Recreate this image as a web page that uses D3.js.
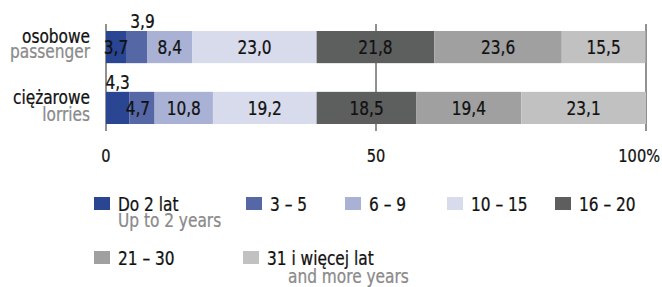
<!DOCTYPE html>
<html>
<head>
<meta charset="utf-8">
<script src="https://cdn.jsdelivr.net/npm/d3@7"></script>
<style>
  body { margin: 0; background: #fff; }
  text { font-family: "DejaVu Sans Condensed", "DejaVu Sans", sans-serif; font-stretch: condensed; }
</style>
</head>
<body>
<svg width="662" height="287"></svg>
<script>
// data
let categories = ["osobowe", "ciężarowe"];
let categoriesEn = ["passenger", "lorries"];
let groups = ["Do 2 lat", "3 – 5", "6 – 9", "10 – 15", "16 – 20", "21 – 30", "31 i więcej lat"];
let groupsEn = ["Up to 2 years", "", "", "", "", "", "and more years"];
let passenger = [3.7, 3.9, 8.4, 23.0, 21.8, 23.6, 15.5];
let lorries = [4.3, 4.7, 10.8, 19.2, 18.5, 19.4, 23.1];
let ticks = [0, 50, 100];
let colors = ["#2a4592", "#5567a5", "#a9b2d5", "#d8dbeb", "#5d5f5e", "#a0a0a0", "#c1c1c1"];

let values = [passenger, lorries];
let svg = d3.select('svg');
let squeeze = 0.9;

// text squeezed horizontally to look like the condensed original font
function label(parent, tx, ty, str, anchor, fill, size) {
  return parent.append('text')
    .attr('transform', `translate(${tx},${ty}) scale(${squeeze},1)`)
    .attr('text-anchor', anchor || 'start')
    .attr('font-size', size || 19)
    .attr('fill', fill || '#111')
    .attr('stroke', fill || '#111')
    .attr('stroke-width', 0.25)
    .text(str);
}

let x = d3.scaleLinear().domain([0, 100]).range([106, 646]);
let y = d3.scaleBand().domain(categories).range([31, 124]).paddingInner(29 / 61.5);

let fmt = d => d.toFixed(1).replace('.', ',');

// gridlines behind bars
svg.append('g').selectAll('line')
  .data(ticks)
  .join('line')
  .attr('x1', d => x(d)).attr('x2', d => x(d))
  .attr('y1', 24).attr('y2', 131)
  .attr('stroke', '#222').attr('stroke-width', 1);

categories.forEach((cat, ci) => {
  let vals = values[ci];
  let stacked = [];
  let acc = 0;
  vals.forEach((v, i) => {
    stacked.push({ i: i, v: v, x0: acc, x1: acc + v });
    acc += v;
  });
  let g = svg.append('g');
  g.selectAll('rect')
    .data(stacked)
    .join('rect')
    .attr('x', d => x(d.x0))
    .attr('width', d => x(d.x1) - x(d.x0))
    .attr('y', y(cat))
    .attr('height', y.bandwidth())
    .attr('fill', d => colors[d.i]);

  // small segments: one label goes above the bar
  stacked.forEach(d => {
    let above = (d.i === 0 && ci === 1) || (d.i === 1 && ci === 0);
    let cx = (x(d.x0) + x(d.x1)) / 2;
    if (d.i === 1) cx += ci === 0 ? 6 : -4;
    let cy = above ? y(cat) - 3 : y(cat) + y.bandwidth() / 2 + 7;
    label(g, cx, cy, fmt(d.v), 'middle');
  });

  label(svg, 90, y(cat) + 12, cat, 'end');
  label(svg, 90, y(cat) + 27 + ci * 2, categoriesEn[ci], 'end', '#8a8a8a');
});

// axis labels
let ax = svg.append('g');
ticks.forEach(d => {
  if (d === 100) label(ax, x(d) + 14, 162, '100%', 'end', '#111', 18);
  else label(ax, x(d), 162, d, 'middle', '#111', 18);
});

// legend
let legendPos = [[94, 197], [246, 197], [345, 197], [447, 197], [555, 197], [94, 251], [243, 251]];
groups.forEach((name, i) => {
  let lg = svg.append('g')
    .attr('transform', `translate(${legendPos[i][0]},${legendPos[i][1]})`);
  lg.append('rect')
    .attr('width', 16).attr('height', 13)
    .attr('fill', colors[i]);
  label(lg, 24, 14, name, 'start', '#111', 19);
  if (groupsEn[i]) label(lg, i === 6 ? 45 : 24, i === 6 ? 32 : 30, groupsEn[i], 'start', '#8a8a8a', 19);
});
</script>
</body>
</html>
